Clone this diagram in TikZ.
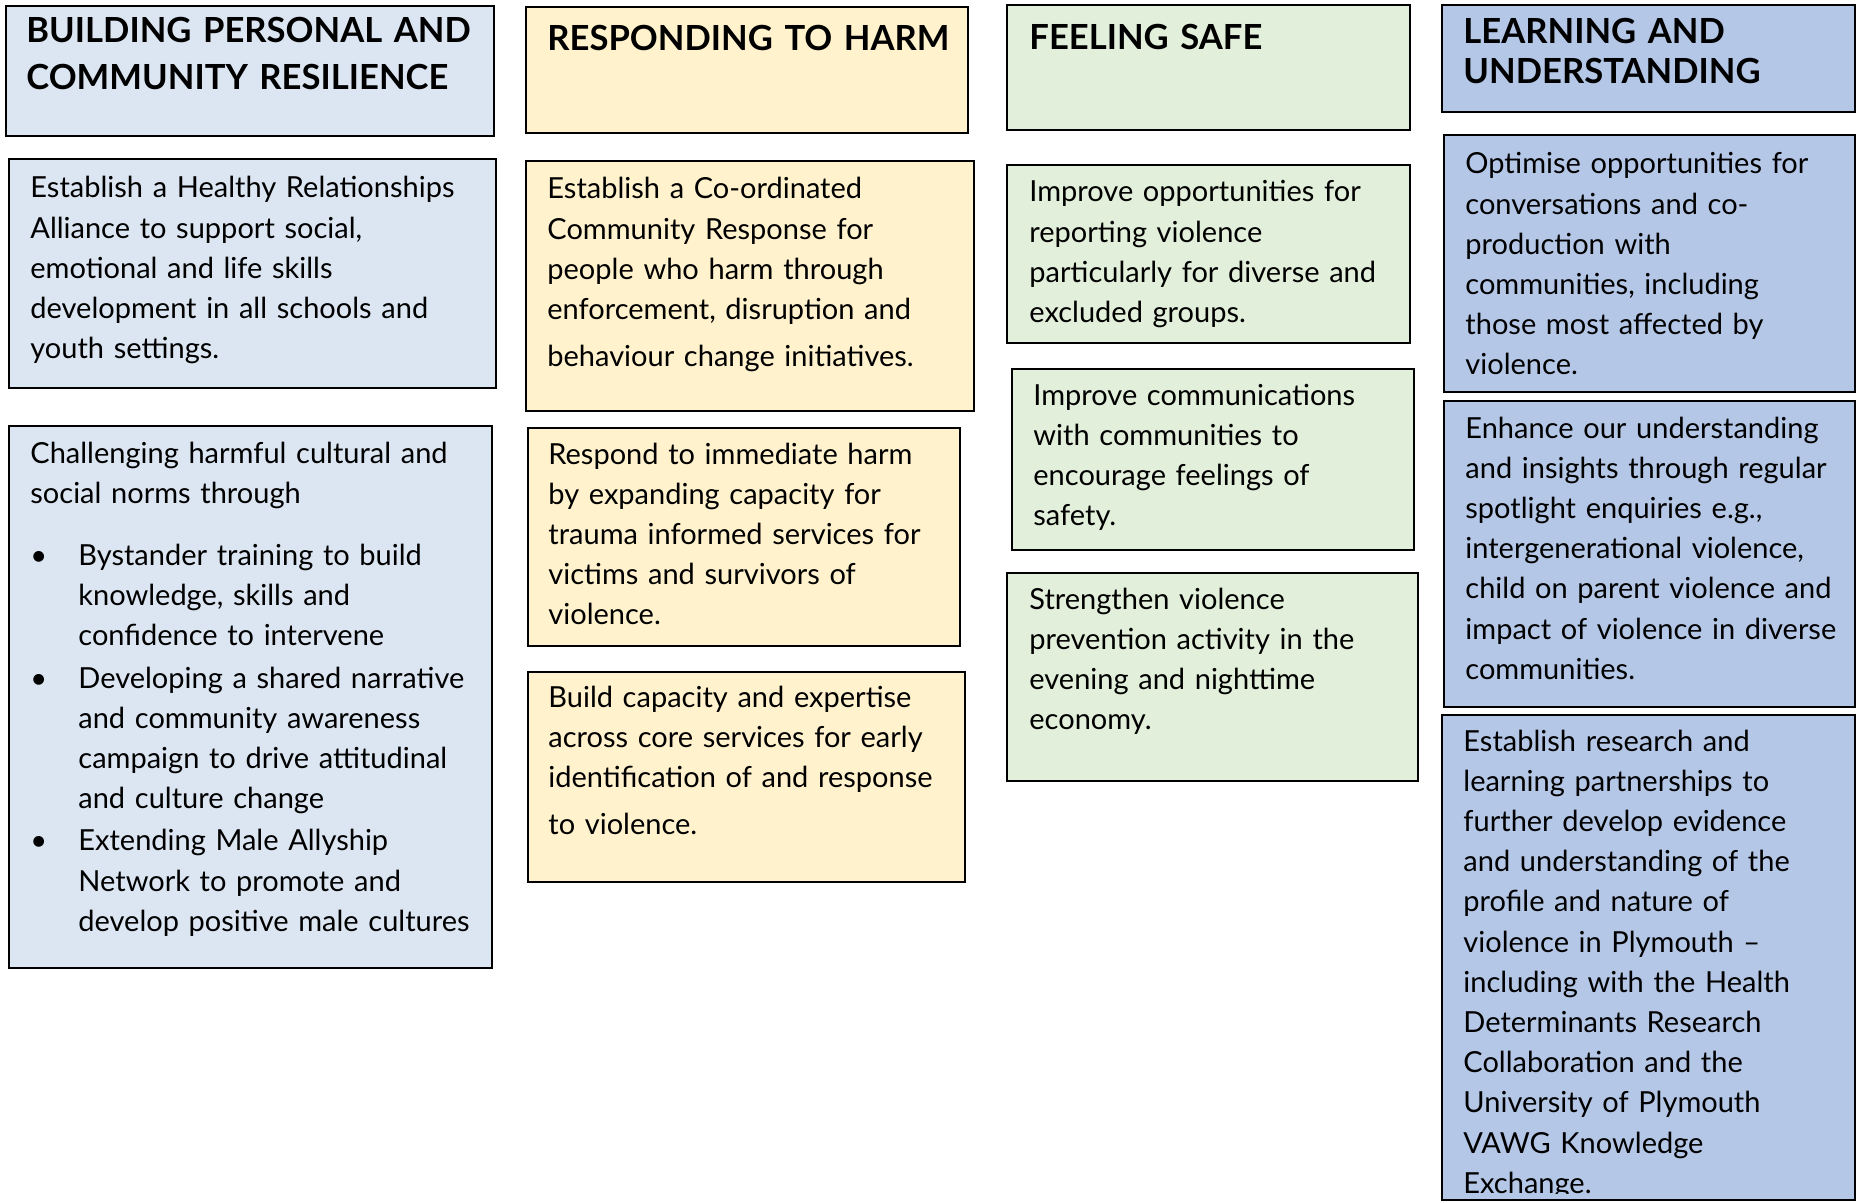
\documentclass[tikz,border=0pt]{standalone}
\usepackage{fontspec}
\setmainfont{Lato}
\usetikzlibrary{fit}
\definecolor{resilblue}{HTML}{DCE6F2}
\definecolor{harmyellow}{HTML}{FFF2CC}
\definecolor{safegreen}{HTML}{E2EFDA}
\definecolor{learnblue}{HTML}{B4C7E7}
\tikzset{
  card/.style={draw=black, line width=1.2pt, fill=#1, inner sep=0pt},
  heading/.style={anchor=base west, inner sep=0pt, text width=260pt, align=left,
    font=\bfseries\fontsize{17.3}{23.5}\selectfont},
  blurb/.style={anchor=base west, inner sep=0pt, text width=260pt, align=left,
    font=\fontsize{14.5}{20.1}\selectfont},
}
\newcommand\bulitem{\makebox[24pt][l]{\textbullet}}
\newcommand\bulcont{\hspace*{24pt}}

\begin{document}
\begin{tikzpicture}[x=0.5pt, y=-0.5pt]
  \useasboundingbox (0,0) rectangle (1856,1203);

  % resilience column
  \node[card=resilblue, fit={(6,6) (494,136)}] (resilHead) {};
  \node[heading] (resilTitle) at (26,43) {BUILDING PERSONAL AND\\COMMUNITY RESILIENCE};
  \node[card=resilblue, fit={(9,159) (496,388)}] (alliance) {};
  \node[blurb] (allianceText) at (30,198) {Establish a Healthy Relationships\\Alliance to support social,\\emotional and life skills\\development in all schools and\\youth settings.};
  \node[card=resilblue, fit={(9,426) (492,968)}] (norms) {};
  \node[blurb] (normsText) at (30,463) {Challenging harmful cultural and\\social norms through\\[11pt]
    \bulitem Bystander training to build\\\bulcont knowledge, skills and\\\bulcont confidence to intervene\\[1pt]
    \bulitem Developing a shared narrative\\\bulcont and community awareness\\\bulcont campaign to drive attitudinal\\\bulcont and culture change\\[1pt]
    \bulitem Extending Male Allyship\\\bulcont Network to promote and\\\bulcont develop positive male cultures};

  % harm column
  \node[card=harmyellow, fit={(526,7) (968,133)}] (harmHead) {};
  \node[heading] (harmTitle) at (547,51) {RESPONDING TO HARM};
  \node[card=harmyellow, fit={(526,161) (974,411)}] (ccr) {};
  \node[blurb] (ccrText) at (547,199) {Establish a Co-ordinated\\Community Response for\\people who harm through\\enforcement, disruption and\\[3.5pt]behaviour change initiatives.};
  \node[card=harmyellow, fit={(528,428) (960,646)}] (trauma) {};
  \node[blurb] (traumaText) at (548,464) {Respond to immediate harm\\by expanding capacity for\\trauma informed services for\\victims and survivors of\\violence.};
  \node[card=harmyellow, fit={(528,672) (965,882)}] (early) {};
  \node[blurb] (earlyText) at (548,707) {Build capacity and expertise\\across core services for early\\identification of and response\\[3.5pt]to violence.};

  % safety column
  \node[card=safegreen, fit={(1007,5) (1410,130)}] (safeHead) {};
  \node[heading] (safeTitle) at (1029,50) {FEELING SAFE};
  \node[card=safegreen, fit={(1007,165) (1410,343)}] (report) {};
  \node[blurb] (reportText) at (1029,202) {Improve opportunities for\\reporting violence\\particularly for diverse and\\excluded groups.};
  \node[card=safegreen, fit={(1012,369) (1414,550)}] (comms) {};
  \node[blurb] (commsText) at (1033,405) {Improve communications\\with communities to\\encourage feelings of\\safety.};
  \node[card=safegreen, fit={(1007,573) (1418,781)}] (night) {};
  \node[blurb] (nightText) at (1029,609) {Strengthen violence\\prevention activity in the\\evening and nighttime\\economy.};

  % learning column
  \node[card=learnblue, fit={(1442,5) (1855,112)}] (learnHead) {};
  \node[heading, font=\bfseries\fontsize{17.3}{20}\selectfont] (learnTitle) at (1463,44) {LEARNING AND\\UNDERSTANDING};
  \node[card=learnblue, fit={(1444,135) (1855,392)}] (coprod) {};
  \node[blurb] (coprodText) at (1465,174) {Optimise opportunities for\\conversations and co-\\production with\\communities, including\\those most affected by\\violence.};
  \node[card=learnblue, fit={(1444,401) (1855,707)}] (insight) {};
  \node[blurb] (insightText) at (1465,438) {Enhance our understanding\\and insights through regular\\spotlight enquiries e.g.,\\intergenerational violence,\\child on parent violence and\\impact of violence in diverse\\communities.};
  \node[card=learnblue, fit={(1442,715) (1855,1200)}] (research) {};
  \begin{scope}
    \clip (1442,715) rectangle (1856,1193);
    \node[blurb] (researchText) at (1463,751) {Establish research and\\learning partnerships to\\further develop evidence\\and understanding of the\\profile and nature of\\violence in Plymouth –\\including with the Health\\Determinants Research\\Collaboration and the\\University of Plymouth\\VAWG Knowledge\\Exchange.};
  \end{scope}
\end{tikzpicture}
\end{document}
